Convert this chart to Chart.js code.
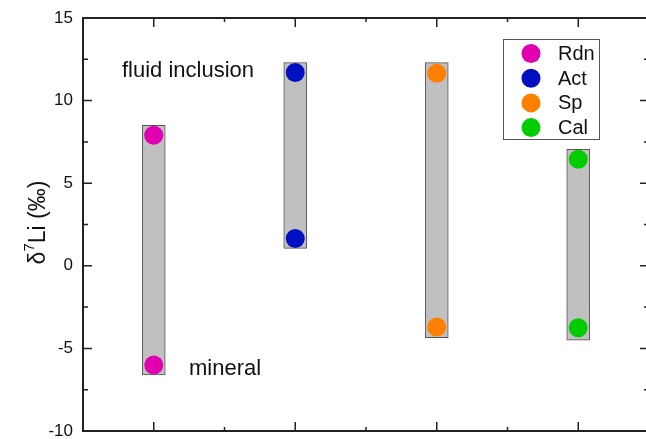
<!DOCTYPE html>
<html>
<head>
<meta charset="utf-8">
<script src="https://cdn.jsdelivr.net/npm/chart.js@4.4.1/dist/chart.umd.min.js"></script>
<style>
html,body{margin:0;padding:0;background:#fff;overflow:hidden;width:646px;height:439px;}
#c{display:block;}
</style>
</head>
<body>
<canvas id="c" width="649" height="439" style="width:649px;height:439px"></canvas>
<script>
// ---- data ----
const categories = ['Rdn', 'Act', 'Sp', 'Cal'];
const xPositions = [1, 2, 3, 4];
const fluidInclusion = [7.9, 11.7, 11.65, 6.45];
const mineral = [-6.0, 1.65, -3.7, -3.75];
const rangeLow = [-6.6, 1.05, -4.35, -4.5];
const rangeHigh = [8.5, 12.3, 12.3, 7.05];
const yTicks = [-10, -5, 0, 5, 10, 15];
const colors = ['#E000B0', '#0010C0', '#FF8000', '#00CC00'];

const FONT = '"Liberation Sans", Arial, sans-serif';
const AXIS = '#222';

const scatterSets = categories.map((name, i) => ({
  type: 'scatter',
  label: name,
  data: [{x: xPositions[i], y: fluidInclusion[i]}, {x: xPositions[i], y: mineral[i]}],
  backgroundColor: colors[i],
  borderColor: colors[i],
  borderWidth: 0,
  pointRadius: 9.5,
  pointHoverRadius: 9.5,
  order: 1
}));

const barSet = {
  type: 'bar',
  label: 'range',
  data: xPositions.map((x, i) => ({x: x, y: [rangeLow[i], rangeHigh[i]]})),
  backgroundColor: '#C0C0C0',
  borderColor: '#555',
  borderWidth: 1,
  borderSkipped: false,
  barThickness: 23,
  order: 10
};

const framePlugin = {
  id: 'frame',
  afterDatasetsDraw(chart) {
    const ctx = chart.ctx, a = chart.chartArea;
    const xs = chart.scales.x, ys = chart.scales.y;
    ctx.save();
    ctx.strokeStyle = AXIS;
    ctx.lineWidth = 2;
    ctx.beginPath();
    ctx.moveTo(a.left, a.top); ctx.lineTo(a.right, a.top);
    ctx.moveTo(a.right, a.top); ctx.lineTo(a.right, a.bottom);
    ctx.stroke();
    ctx.lineWidth = 1.5;
    ctx.beginPath();
    for (let v = -10; v <= 15; v += 2.5) {
      if (v === -10 || v === 15) continue;
      const p = ys.getPixelForValue(v);
      const len = (Math.abs(v % 5) < 1e-6) ? 9 : 5;
      ctx.moveTo(a.left, p); ctx.lineTo(a.left + len, p);
      ctx.moveTo(a.right, p); ctx.lineTo(a.right - len, p);
    }
    for (let v = 1; v <= 4.5; v += 0.5) {
      const p = xs.getPixelForValue(v);
      const len = Number.isInteger(v) ? 9 : 4;
      ctx.moveTo(p, a.bottom); ctx.lineTo(p, a.bottom - len);
      ctx.moveTo(p, a.top); ctx.lineTo(p, a.top + len);
    }
    ctx.stroke();

    // legend
    const lx = 503.5, ly = 39.5, lw = 96, lh = 100;
    ctx.fillStyle = '#fff';
    ctx.fillRect(lx, ly, lw, lh);
    ctx.strokeStyle = '#555';
    ctx.lineWidth = 1;
    ctx.strokeRect(lx, ly, lw, lh);
    ctx.font = '20px ' + FONT;
    ctx.textBaseline = 'middle';
    ctx.textAlign = 'left';
    categories.forEach((name, i) => {
      const cy = 53.5 + i * 24.7;
      ctx.fillStyle = colors[i];
      ctx.beginPath();
      ctx.arc(531, cy, 9.5, 0, Math.PI * 2);
      ctx.fill();
      ctx.fillStyle = '#111';
      ctx.fillText(name, 558, cy + 1);
    });

    // annotations
    ctx.font = '22px ' + FONT;
    ctx.fillStyle = '#111';
    ctx.fillText('fluid inclusion', 122, 71);
    ctx.fillText('mineral', 189, 369);

    // y title with superscript
    ctx.translate(37, (a.top + a.bottom) / 2 - 2);
    ctx.rotate(-Math.PI / 2);
    const big = '23px ' + FONT, small = '15px ' + FONT;
    ctx.font = big;
    const w1 = ctx.measureText('δ').width;
    const w3 = ctx.measureText('Li (‰)').width;
    ctx.font = small;
    const w2 = ctx.measureText('7').width;
    let x0 = -(w1 + w2 + w3) / 2;
    ctx.textBaseline = 'alphabetic';
    ctx.fillStyle = '#111';
    ctx.font = big;
    ctx.fillText('δ', x0, 8);
    ctx.font = small;
    ctx.fillText('7', x0 + w1, -3);
    ctx.font = big;
    ctx.fillText('Li (‰)', x0 + w1 + w2, 8);
    ctx.restore();
  }
};

new Chart(document.getElementById('c'), {
  type: 'bar',
  data: { datasets: [barSet, ...scatterSets] },
  options: {
    responsive: false,
    animation: false,
    events: [],
    layout: { autoPadding: false, padding: { top: 18, right: 0, bottom: 0, left: 0 } },
    plugins: { legend: { display: false }, tooltip: { enabled: false } },
    scales: {
      x: {
        type: 'linear',
        offset: false,
        min: 0.5,
        max: 4.5,
        grid: { display: false, drawTicks: false },
        border: { display: true, color: AXIS, width: 2 },
        ticks: { display: false },
        afterFit: (s) => { s.height = 8; s.paddingLeft = 0; s.paddingRight = 0; s.paddingTop = 0; s.paddingBottom = 0; }
      },
      y: {
        type: 'linear',
        min: -10,
        max: 15,
        afterBuildTicks: (s) => { s.ticks = yTicks.map(v => ({value: v})); },
        grid: { display: false, drawTicks: false },
        border: { display: true, color: AXIS, width: 2 },
        ticks: {
          padding: 10,
          color: '#111',
          font: { family: FONT, size: 17 }
        },
        afterFit: (s) => { s.width = 83; s.paddingTop = 0; s.paddingBottom = 0; s.paddingLeft = 0; s.paddingRight = 0; }
      }
    }
  },
  plugins: [framePlugin]
});
</script>
</body>
</html>
